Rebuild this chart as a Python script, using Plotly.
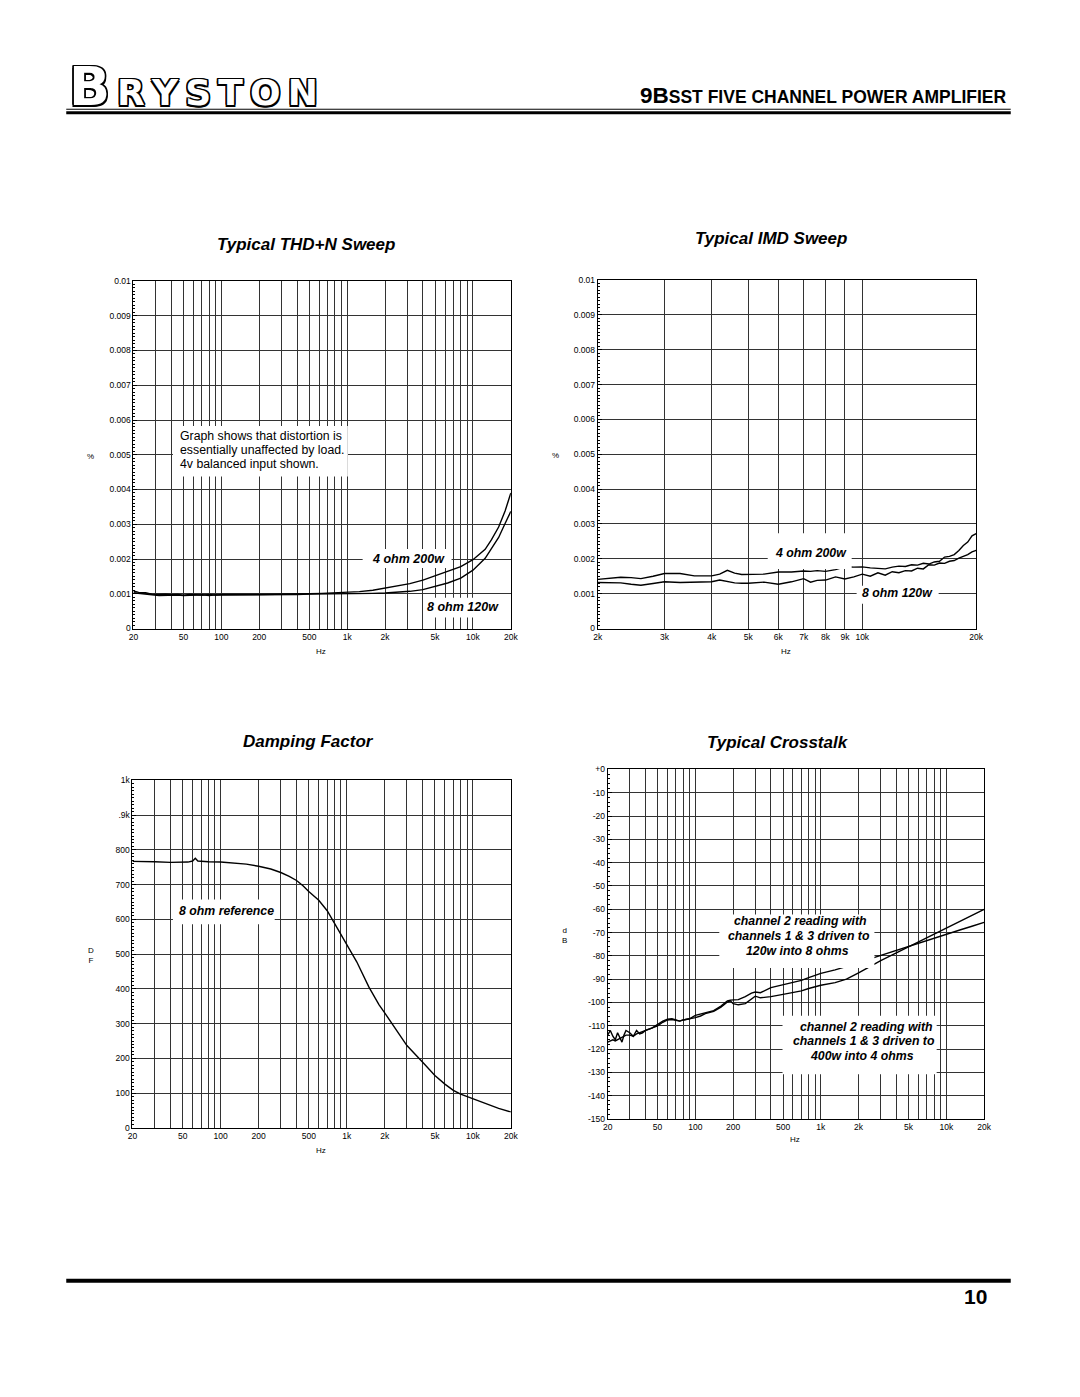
import math
import plotly.graph_objects as go

W, H = 1080, 1397
FONT = "Liberation Sans, Arial, Helvetica, sans-serif"
GRID = "#333333"

# ---------------- data ----------------
thd_freq = [20, 22, 25, 28, 32, 36, 40, 45, 50, 56, 63, 71, 80, 90, 100, 125, 160, 200, 250, 315,
            400, 500, 630, 800, 1000, 1250, 1600, 2000, 2500, 3150, 4000, 5000, 6300, 8000, 10000,
            12500, 14000, 16000, 18000, 20000]
thd_4ohm_200w = [0.00108, 0.00104, 0.00103, 0.00099, 0.00098, 0.00099, 0.00097, 0.00098, 0.00096, 0.00098,
                 0.00097, 0.00096, 0.00098, 0.00096, 0.00098, 0.00097, 0.00098, 0.00098, 0.00099, 0.00098,
                 0.00100, 0.00100, 0.00101, 0.00102, 0.00104, 0.00106, 0.00110, 0.00116, 0.00122, 0.00129,
                 0.00139, 0.00151, 0.00163, 0.00178, 0.00198, 0.00228, 0.00255, 0.00292, 0.00338, 0.00390]
thd_8ohm_120w = [0.00103, 0.00101, 0.00098, 0.00097, 0.00095, 0.00096, 0.00095, 0.00096, 0.00095, 0.00096,
                 0.00095, 0.00097, 0.00095, 0.00097, 0.00096, 0.00096, 0.00097, 0.00097, 0.00097, 0.00098,
                 0.00098, 0.00099, 0.00099, 0.00100, 0.00100, 0.00100, 0.00101, 0.00102, 0.00104, 0.00107,
                 0.00112, 0.00121, 0.00131, 0.00145, 0.00168, 0.00202, 0.00228, 0.00262, 0.00302, 0.00337]

imd_freq = [2000, 2150, 2300, 2450, 2600, 2800, 3000, 3300, 3600, 4000,
            4200, 4400, 4600, 4800, 5000, 5500, 6000, 6500, 7000, 7300,
            7600, 8000, 8500, 9000, 9500, 10000, 10500, 11000, 11500, 12000,
            12500, 13000, 13500, 14000, 14500, 15000, 15500, 16000, 16500, 17000,
            17500, 18000, 18500, 19000, 19500, 20000]
imd_4ohm_200w = [0.00141, 0.00144, 0.00147, 0.00146, 0.00143, 0.00150, 0.00158, 0.00158, 0.00151, 0.00151,
                 0.00156, 0.00167, 0.00159, 0.00155, 0.00155, 0.00156, 0.00162, 0.00162, 0.00165, 0.00164,
                 0.00166, 0.00164, 0.00169, 0.00177, 0.00176, 0.00177, 0.00174, 0.00172, 0.00171, 0.00176,
                 0.00179, 0.00178, 0.00183, 0.00182, 0.00187, 0.00185, 0.00191, 0.00193, 0.00205, 0.00207,
                 0.00212, 0.00224, 0.00238, 0.00248, 0.00266, 0.00272]
imd_8ohm_120w = [0.00132, 0.00132, 0.00131, 0.00127, 0.00124, 0.00129, 0.00134, 0.00132, 0.00133, 0.00134,
                 0.00139, 0.00134, 0.00131, 0.00130, 0.00130, 0.00133, 0.00127, 0.00134, 0.00143, 0.00133,
                 0.00138, 0.00139, 0.00148, 0.00142, 0.00148, 0.00156, 0.00150, 0.00160, 0.00153, 0.00163,
                 0.00160, 0.00166, 0.00165, 0.00173, 0.00171, 0.00183, 0.00182, 0.00188, 0.00187, 0.00193,
                 0.00195, 0.00202, 0.00206, 0.00212, 0.00220, 0.00224]

damp_freq = [20, 25, 30, 40, 50, 55, 60, 63, 66, 70,
             80, 100, 130, 160, 200, 250, 300, 350, 400, 450,
             500, 600, 700, 800, 900, 1000, 1200, 1500, 1800, 2000,
             2500, 3000, 4000, 5000, 6000, 7000, 8000, 10000, 12500, 16000, 20000]
damp_8ohm = [767, 767, 766, 764, 764, 765, 768, 776, 768, 767,
             766, 765, 762, 759, 753, 745, 735, 724, 712, 697,
             680, 655, 625, 588, 556, 527, 478, 405, 355, 331,
             280, 237, 189, 151, 126, 108, 97, 84, 70, 56, 46]

xt_freq = [20, 21, 22, 23, 24, 25, 26, 27, 28, 30, 32, 34, 36, 38, 40, 45, 50, 55, 60, 65,
           70, 75, 80, 90, 100, 110, 120, 140, 160, 180, 190, 200, 220, 250, 280, 300, 330,
           400, 500, 600, 700, 800, 1000, 1300, 1600, 2000, 2500, 3000, 4000, 5000, 6000,
           8000, 10000, 13000, 16000, 20000]
xt_curve_a = [-114, -112, -114.5, -116, -113, -115, -117, -114, -112, -113, -114.5, -112, -113.5, -113,
              -112, -111, -109.5, -108, -107.2, -107, -107.5, -108, -107.5, -107, -105.5, -105, -104.3,
              -103.5, -101.5, -99.3, -99, -99, -98.8, -97.5, -96, -95.5, -95.8, -93.6, -92.3, -91.3,
              -90.5, -89.3, -87.5, -86, -84.6, -83, -81.2, -79.8, -77.8, -76.1, -74.7, -72.5, -70.8,
              -68.8, -67.3, -65.6]
xt_curve_b = [-117, -116.5, -116, -116.5, -116, -115.5, -115, -114.5, -114, -114, -114.5, -113.5, -113,
              -112.5, -112, -111, -110, -108.5, -107.5, -107.3, -107.8, -108, -107.5, -107, -106.5,
              -105.8, -104.8, -103.8, -102, -99.8, -99.3, -100.5, -101, -100.5, -98.5, -97.3, -98,
              -97.5, -96.5, -95.8, -95, -94, -92.6, -91.5, -90, -87.3, -84.2, -82, -78.7, -76.1, -74,
              -70.6, -68, -65, -62.6, -60]

# ---------------- tick labels ----------------
audio_grid = [20, 30, 40, 50, 60, 70, 80, 90, 100, 200, 300, 400, 500, 600, 700, 800, 900,
              1000, 2000, 3000, 4000, 5000, 6000, 7000, 8000, 9000, 10000, 20000]
audio_labels = ["20", "", "", "50", "", "", "", "", "100", "200", "", "", "500", "", "", "", "",
                "1k", "2k", "", "", "5k", "", "", "", "", "10k", "20k"]
imd_grid = [2000, 3000, 4000, 5000, 6000, 7000, 8000, 9000, 10000, 20000]
imd_labels = ["2k", "3k", "4k", "5k", "6k", "7k", "8k", "9k", "10k", "20k"]
pct_vals = [0, 0.001, 0.002, 0.003, 0.004, 0.005, 0.006, 0.007, 0.008, 0.009, 0.01]
pct_labels = ["0", "0.001", "0.002", "0.003", "0.004", "0.005", "0.006", "0.007", "0.008", "0.009", "0.01"]
df_vals = [0, 100, 200, 300, 400, 500, 600, 700, 800, 900, 1000]
df_labels = ["0", "100", "200", "300", "400", "500", "600", "700", "800", ".9k", "1k"]
db_vals = [0, -10, -20, -30, -40, -50, -60, -70, -80, -90, -100, -110, -120, -130, -140, -150]
db_labels = ["+0", "-10", "-20", "-30", "-40", "-50", "-60", "-70", "-80", "-90", "-100", "-110",
             "-120", "-130", "-140", "-150"]


def px(x):
    return x / W


def py(y):
    return 1 - y / H


fig = go.Figure()


def add_line(x, y, xa, ya, name):
    fig.add_trace(go.Scatter(x=x, y=y, mode="lines", name=name,
                             line=dict(color="black", width=1.4),
                             xaxis=xa, yaxis=ya, showlegend=False, hoverinfo="skip"))


add_line(thd_freq, thd_4ohm_200w, "x", "y", "4 ohm 200w")
add_line(thd_freq, thd_8ohm_120w, "x", "y", "8 ohm 120w")
add_line(imd_freq, imd_4ohm_200w, "x2", "y2", "4 ohm 200w")
add_line(imd_freq, imd_8ohm_120w, "x2", "y2", "8 ohm 120w")
add_line(damp_freq, damp_8ohm, "x3", "y3", "8 ohm reference")
add_line(xt_freq, xt_curve_a, "x4", "y4", "crosstalk a")
add_line(xt_freq, xt_curve_b, "x4", "y4", "crosstalk b")

TICKFONT = dict(family=FONT, size=8.5, color="black")


def xcfg(l, r, lo, hi, vals, text, anchor):
    return dict(domain=[px(l), px(r)], type="log", range=[math.log10(lo), math.log10(hi)],
                tickmode="array", tickvals=vals, ticktext=text, showgrid=True,
                gridcolor=GRID, gridwidth=1, showline=True, linecolor="black", linewidth=1,
                mirror=True, ticks="", tickfont=TICKFONT, zeroline=False, anchor=anchor)


def ycfg(top, bot, rng, vals, text, mdt, anchor):
    return dict(domain=[py(bot), py(top)], range=rng, tickmode="array", tickvals=vals,
                ticktext=text, showgrid=True, gridcolor=GRID, gridwidth=1, showline=True,
                linecolor="black", linewidth=1, mirror=True, ticks="inside", ticklen=4,
                tickcolor="black", tickfont=TICKFONT, zeroline=False, anchor=anchor,
                minor=dict(ticks="inside", ticklen=2, tickcolor="black", tickmode="linear",
                           tick0=rng[0], dtick=mdt, showgrid=False))


shapes = []


def hline(y, x0, x1, w):
    shapes.append(dict(type="line", xref="paper", yref="paper", x0=px(x0), x1=px(x1),
                       y0=py(y), y1=py(y), line=dict(color="black", width=w)))


def wbox(x0, y0, x1, y1):
    shapes.append(dict(type="rect", xref="paper", yref="paper", x0=px(x0), x1=px(x1),
                       y0=py(y1), y1=py(y0), fillcolor="white", line=dict(width=0), layer="above"))


hline(105, 62, 1018, 1)
hline(108.5, 62, 1018, 3)
hline(1285, 62, 1018, 4)

wbox(170, 424, 347, 475)
wbox(362, 548, 452, 567)
wbox(425, 597, 506, 617)
wbox(772, 532, 857, 568)
wbox(862, 585, 945, 603)
wbox(170, 901, 273, 926)
wbox(723, 916, 880, 970)
wbox(787, 1018, 943, 1077)

ann = []


def txt(s, x, y, size, xanchor="center", bi=False, family=FONT, **kw):
    if bi:
        s = "<b><i>" + s + "</i></b>"
    d = dict(text=s, x=px(x), y=py(y), xref="paper", yref="paper", xanchor=xanchor,
             yanchor="middle", showarrow=False, font=dict(family=family, size=size, color="black"))
    d.update(kw)
    ann.append(d)


# chart titles
txt("Typical THD+N Sweep", 305, 241, 17, bi=True)
txt("Typical IMD Sweep", 775, 235.5, 17, bi=True)
txt("Damping Factor", 307.5, 741.5, 17, bi=True)
txt("Typical Crosstalk", 782, 743, 17, bi=True)

# axis labels
txt("Hz", 320, 651.5, 8)
txt("Hz", 791, 651, 8)
txt("Hz", 320, 1153.5, 8)
txt("Hz", 800, 1143, 8)
txt("%", 86.5, 454.5, 8)
txt("%", 557, 453.5, 8)
txt("D<br>F", 87, 957, 8)
txt("d<br>B", 566, 937, 8)

# THD notes
txt("Graph shows that distortion is", 175.5, 434, 12.3, xanchor="left")
txt("essentially unaffected by load.", 175.5, 448.5, 12.3, xanchor="left")
txt("4v balanced input shown.", 175.5, 462.5, 12.3, xanchor="left")
txt("4 ohm 200w", 408, 558, 12.5, bi=True)
txt("8 ohm 120w", 464, 606.5, 12.5, bi=True)
# IMD notes
txt("4 ohm 200w", 815.5, 551.5, 12.3, bi=True)
txt("8 ohm 120w", 903.5, 592, 12.3, bi=True)
# Damping note
txt("8 ohm reference", 224, 913, 12.3, bi=True)
# Crosstalk notes
txt("channel 2 reading with", 805, 923, 12.3, bi=True)
txt("channels 1 &amp; 3 driven to", 803.5, 938, 12.3, bi=True)
txt("120w into 8 ohms", 802, 953, 12.3, bi=True)
txt("channel 2 reading with", 871.5, 1029.5, 12.3, bi=True)
txt("channels 1 &amp; 3 driven to", 869, 1043.5, 12.3, bi=True)
txt("400w into 4 ohms", 867.5, 1058.5, 12.3, bi=True)

# header
OUTLINE = ("1.5px 1.5px 0 #000, -1.5px -1.5px 0 #000, 1.5px -1.5px 0 #000, -1.5px 1.5px 0 #000, "
           "0 1.5px 0 #000, 0 -1.5px 0 #000, 1.5px 0 0 #000, -1.5px 0 0 #000")
ann.append(dict(text="<b>B</b>", x=px(63), y=py(82), xref="paper", yref="paper",
                xanchor="left", yanchor="middle", showarrow=False,
                font=dict(family="DejaVu Sans, sans-serif", size=54, color="white", shadow=OUTLINE)))
ann.append(dict(text="<b>R\u2009Y\u2009S\u2009T\u2009O\u2009N</b>", x=px(111), y=py(88),
                xref="paper", yref="paper", xanchor="left", yanchor="middle", showarrow=False,
                font=dict(family="DejaVu Sans, sans-serif", size=36, color="white", shadow=OUTLINE)))
ann.append(dict(text="<b><span style='font-size:22.5px'>9B</span>SST FIVE CHANNEL POWER AMPLIFIER</b>",
                x=px(1016), y=py(91), xref="paper", yref="paper", xanchor="right",
                yanchor="middle", showarrow=False,
                font=dict(family=FONT, size=17.5, color="black")))
ann.append(dict(text="<b>10</b>", x=px(996), y=py(1300.5), xref="paper", yref="paper",
                xanchor="right", yanchor="middle", showarrow=False,
                font=dict(family="Liberation Sans Narrow, " + FONT, size=21, color="black")))

fig.update_layout(
    width=W, height=H, margin=dict(l=0, r=0, t=0, b=0),
    paper_bgcolor="white", plot_bgcolor="white", showlegend=False,
    xaxis=xcfg(130, 512, 20, 20000, audio_grid, audio_labels, "y"),
    yaxis=ycfg(278, 628, [0, 0.01], pct_vals, pct_labels, 0.0001, "x"),
    xaxis2=xcfg(600, 983, 2000, 20000, imd_grid, imd_labels, "y2"),
    yaxis2=ycfg(277, 628, [0, 0.01], pct_vals, pct_labels, 0.0001, "x2"),
    xaxis3=xcfg(129, 512, 20, 20000, audio_grid, audio_labels, "y3"),
    yaxis3=ycfg(781, 1131, [0, 1000], df_vals, df_labels, 10, "x3"),
    xaxis4=xcfg(610, 991, 20, 20000, audio_grid, audio_labels, "y4"),
    yaxis4=ycfg(770, 1122, [-150, 0], db_vals, db_labels, 2, "x4"),
    shapes=shapes, annotations=ann,
)

fig.write_html("out.html")
